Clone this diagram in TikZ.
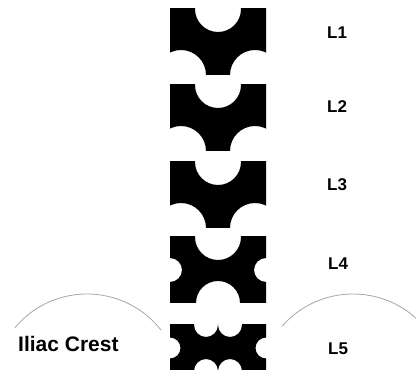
\documentclass[tikz,border=0pt]{standalone}
\usepackage{fontspec}
\setmainfont{Liberation Sans}
\begin{document}
\begin{tikzpicture}[x=1pt,y=1pt,
  level/.style={font=\bfseries\fontsize{17}{17}\selectfont, anchor=west, inner sep=0pt},
  crestlabel/.style={font=\bfseries\fontsize{21}{21}\selectfont, anchor=base west, inner sep=0pt},
  crest/.style={draw=black!35, line width=0.8pt},
  bone/.style={fill=black, even odd rule}]
\useasboundingbox (0,0) rectangle (416,370);
\clip (0,0) rectangle (416,370);

% L1 - L3: notch on top, two scooped corners below
\foreach \t in {361,285,208}{
  \begin{scope}
    \clip (170,\t-66) rectangle (266,\t);
    \path[bone] (160,\t-76) rectangle (276,\t+10)
      (218,\t) circle[radius=23pt]
      (181,\t-66) circle[radius=25pt]
      (255,\t-66) circle[radius=25pt];
  \end{scope}
}

% L4: notches on all four sides
\begin{scope}
  \clip (170,67) rectangle (266,133);
  \path[bone] (160,57) rectangle (276,143)
    (218,133) circle[radius=23pt]
    (218,67) circle[radius=22pt]
    (170,100) circle[radius=12pt]
    (266,100) circle[radius=12pt];
\end{scope}

% L5: paired notches top and bottom, small notches at the sides
\begin{scope}
  \clip (170,-1) rectangle (266,45);
  \path[bone] (160,-11) rectangle (276,55)
    (206,45) circle[radius=12pt]
    (230,45) circle[radius=12pt]
    (206,-1) circle[radius=12pt]
    (230,-1) circle[radius=12pt]
    (170,22) circle[radius=10.5pt]
    (266,22) circle[radius=10.5pt];
\end{scope}

% iliac crests
\draw[crest] (87,-18) ++(140:94pt) arc[start angle=140, end angle=38, radius=94pt];
\draw[crest] (353,-18) ++(139:94pt) arc[start angle=139, end angle=20, radius=94pt];

% labels
\node[level] (l1) at (327,337) {L1};
\node[level] (l2) at (327,263) {L2};
\node[level] (l3) at (327,185) {L3};
\node[level] (l4) at (328,106) {L4};
\node[level] (l5) at (328,21) {L5};
\node[crestlabel] (ic) at (18,18) {Iliac Crest};
\end{tikzpicture}
\end{document}
